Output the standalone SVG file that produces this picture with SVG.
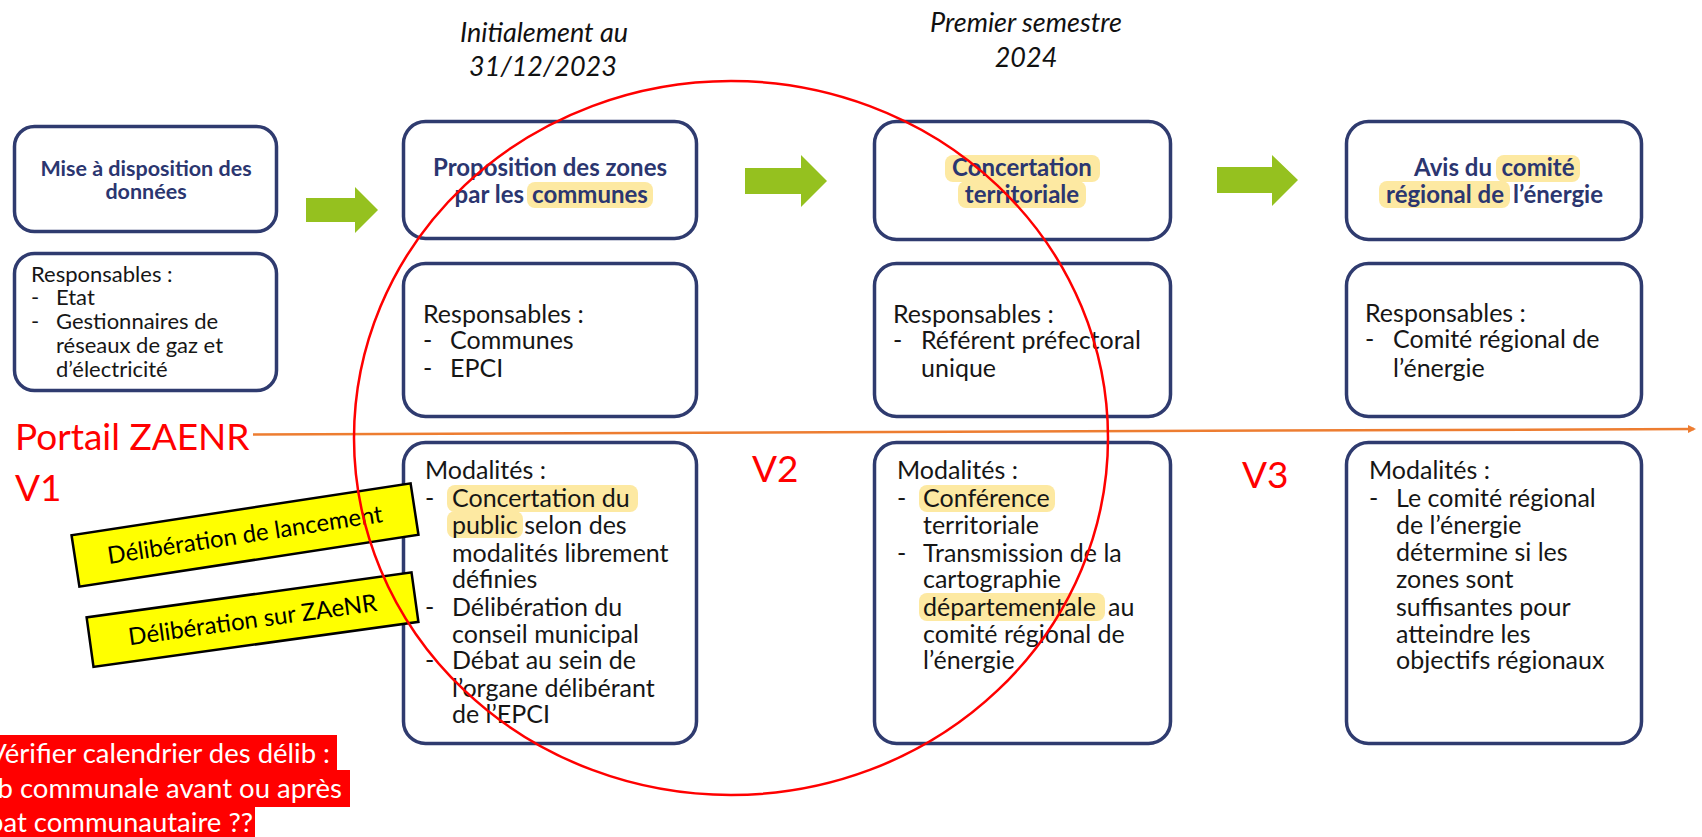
<svg xmlns="http://www.w3.org/2000/svg" width="1702" height="837" viewBox="0 0 1702 837">
<style>
.box{fill:#fff;stroke:#2f3b6f;stroke-width:3.5}
.ttl{font-family:Lato,"Open Sans",sans-serif;font-weight:bold;fill:#2b3670}
.body{font-family:Lato,"Open Sans",sans-serif;fill:#161616}
.hl{fill:#fde9a2}
.hdr{font-family:Lato,"Open Sans",sans-serif;font-style:italic;font-size:27px;fill:#111;text-anchor:middle}
.red{font-family:Lato,"Open Sans",sans-serif;fill:#ff0000;font-size:37px}
.green{fill:#95c11f}
.ybox{fill:#ffff00;stroke:#000;stroke-width:2.5}
.ytxt{font-family:Lato,"Open Sans",sans-serif;font-size:24px;fill:#000;text-anchor:middle}
.note{font-family:Lato,"Open Sans",sans-serif;font-size:27.5px;fill:#fff;text-anchor:end}
</style>
<defs>
<marker id="oarr" markerWidth="8" markerHeight="8" refX="6" refY="4" orient="auto" markerUnits="userSpaceOnUse">
<path d="M0,0 L8,4 L0,8 z" fill="#ed7d31"/>
</marker>
</defs>
<rect width="1702" height="837" fill="#fff"/>

<!-- headers -->
<g id="header-1">
<text class="hdr" x="544" y="42">Initialement au</text>
<text class="hdr" x="543" y="76">31/12/2023</text>
</g>
<g id="header-2">
<text class="hdr" x="1026" y="32">Premier semestre</text>
<text class="hdr" x="1026" y="67">2024</text>
</g>

<!-- column 1 -->
<g id="n1-title">
<rect class="box" x="14.5" y="126.5" width="262" height="105" rx="20"/>
<text class="ttl" font-size="21.5" text-anchor="middle" x="146" y="176">Mise à disposition des</text>
<text class="ttl" font-size="21.5" text-anchor="middle" x="146" y="199">données</text>
</g>
<g id="n1-resp">
<rect class="box" x="14.5" y="253.5" width="262" height="137" rx="20"/>
<text class="body" font-size="22" x="31" y="282">Responsables :</text>
<text class="body" font-size="22" x="31" y="305">-</text><text class="body" font-size="22" x="56" y="305">Etat</text>
<text class="body" font-size="22" x="31" y="329">-</text><text class="body" font-size="22" x="56" y="329">Gestionnaires de</text>
<text class="body" font-size="22" x="56" y="353">réseaux de gaz et</text>
<text class="body" font-size="22" x="56" y="377">d’électricité</text>
</g>

<!-- column 2 -->
<g id="n2-title">
<rect class="box" x="403.5" y="121.5" width="293" height="117" rx="22"/>
<rect class="hl" x="527" y="182" width="126" height="26" rx="8"/>
<text class="ttl" font-size="24" text-anchor="middle" x="550" y="176">Proposition des zones</text>
<text class="ttl" font-size="24" text-anchor="end" x="524" y="203">par les</text>
<text class="ttl" font-size="24" text-anchor="middle" x="590" y="203">communes</text>
</g>
<g id="n2-resp">
<rect class="box" x="403.5" y="263.5" width="293" height="153" rx="22"/>
<text class="body" font-size="25" x="423" y="323">Responsables :</text>
<text class="body" font-size="25" x="423" y="349">-</text><text class="body" font-size="25" x="450" y="349">Communes</text>
<text class="body" font-size="25" x="423" y="377">-</text><text class="body" font-size="25" x="450" y="377">EPCI</text>
</g>
<g id="n2-mod">
<rect class="box" x="403.5" y="442.5" width="293" height="301" rx="22"/>
<rect class="hl" x="447" y="485" width="191" height="27" rx="8"/>
<rect class="hl" x="447" y="511" width="76" height="27" rx="8"/>
<text class="body" font-size="25" x="425" y="479">Modalités :</text>
<text class="body" font-size="25" x="425" y="507">-</text><text class="body" font-size="25" x="452" y="507">Concertation du</text>
<text class="body" font-size="25" x="452" y="534">public selon des</text>
<text class="body" font-size="25" x="452" y="562">modalités librement</text>
<text class="body" font-size="25" x="452" y="588">définies</text>
<text class="body" font-size="25" x="425" y="616">-</text><text class="body" font-size="25" x="452" y="616">Délibération du</text>
<text class="body" font-size="25" x="452" y="643">conseil municipal</text>
<text class="body" font-size="25" x="425" y="669">-</text><text class="body" font-size="25" x="452" y="669">Débat au sein de</text>
<text class="body" font-size="25" x="452" y="697">l’organe délibérant</text>
<text class="body" font-size="25" x="452" y="723">de l’EPCI</text>
</g>

<!-- column 3 -->
<g id="n3-title">
<rect class="box" x="874.5" y="121.5" width="296" height="118" rx="22"/>
<rect class="hl" x="945" y="155" width="155" height="27" rx="8"/>
<rect class="hl" x="958" y="181" width="128" height="27" rx="8"/>
<text class="ttl" font-size="24" text-anchor="middle" x="1022" y="176">Concertation</text>
<text class="ttl" font-size="24" text-anchor="middle" x="1022" y="203">territoriale</text>
</g>
<g id="n3-resp">
<rect class="box" x="874.5" y="263.5" width="296" height="153" rx="22"/>
<text class="body" font-size="25" x="893" y="323">Responsables :</text>
<text class="body" font-size="25" x="893" y="349">-</text><text class="body" font-size="25" x="921" y="349">Référent préfectoral</text>
<text class="body" font-size="25" x="921" y="377">unique</text>
</g>
<g id="n3-mod">
<rect class="box" x="874.5" y="442.5" width="296" height="301" rx="22"/>
<rect class="hl" x="919" y="485" width="136" height="27" rx="8"/>
<rect class="hl" x="919" y="593" width="186" height="28" rx="8"/>
<text class="body" font-size="25" x="897" y="479">Modalités :</text>
<text class="body" font-size="25" x="897" y="507">-</text><text class="body" font-size="25" x="923" y="507">Conférence</text>
<text class="body" font-size="25" x="923" y="534">territoriale</text>
<text class="body" font-size="25" x="897" y="562">-</text><text class="body" font-size="25" x="923" y="562">Transmission de la</text>
<text class="body" font-size="25" x="923" y="588">cartographie</text>
<text class="body" font-size="25" x="923" y="616">départementale</text><text class="body" font-size="25" x="1108" y="616">au</text>
<text class="body" font-size="25" x="923" y="643">comité régional de</text>
<text class="body" font-size="25" x="923" y="669">l’énergie</text>
</g>

<!-- column 4 -->
<g id="n4-title">
<rect class="box" x="1346.5" y="121.5" width="295" height="118" rx="22"/>
<rect class="hl" x="1496" y="155" width="84" height="27" rx="8"/>
<rect class="hl" x="1379" y="181" width="131" height="27" rx="8"/>
<text class="ttl" font-size="24" text-anchor="end" x="1492" y="176">Avis du</text>
<text class="ttl" font-size="24" text-anchor="middle" x="1538" y="176">comité</text>
<text class="ttl" font-size="24" text-anchor="middle" x="1445" y="203">régional de</text>
<text class="ttl" font-size="24" x="1513" y="203">l’énergie</text>
</g>
<g id="n4-resp">
<rect class="box" x="1346.5" y="263.5" width="295" height="153" rx="22"/>
<text class="body" font-size="25" x="1365" y="322">Responsables :</text>
<text class="body" font-size="25" x="1365" y="348">-</text><text class="body" font-size="25" x="1393" y="348">Comité régional de</text>
<text class="body" font-size="25" x="1393" y="377">l’énergie</text>
</g>
<g id="n4-mod">
<rect class="box" x="1346.5" y="442.5" width="295" height="301" rx="22"/>
<text class="body" font-size="25" x="1369" y="479">Modalités :</text>
<text class="body" font-size="25" x="1369" y="507">-</text><text class="body" font-size="25" x="1396" y="507">Le comité régional</text>
<text class="body" font-size="25" x="1396" y="534">de l’énergie</text>
<text class="body" font-size="25" x="1396" y="561">détermine si les</text>
<text class="body" font-size="25" x="1396" y="588">zones sont</text>
<text class="body" font-size="25" x="1396" y="616">suffisantes pour</text>
<text class="body" font-size="25" x="1396" y="643">atteindre les</text>
<text class="body" font-size="25" x="1396" y="669">objectifs régionaux</text>
</g>

<!-- connectors -->
<g id="connectors">
<path class="green" d="M306,198 H355 V187 L378,210 L355,233 V222 H306 Z"/>
<path class="green" d="M745,168 H801 V155 L827,181 L801,207 V194 H745 Z"/>
<path class="green" d="M1217,167 H1272 V155 L1298,180 L1272,206 V193 H1217 Z"/>
<line x1="253" y1="434.5" x2="1694" y2="429" stroke="#ed7d31" stroke-width="2.5" marker-end="url(#oarr)"/>
</g>

<!-- red annotations -->
<g id="portail">
<text class="red" x="15" y="450">Portail ZAENR</text>
<text class="red" x="15" y="501">V1</text>
</g>
<g id="v2"><text class="red" x="752" y="482">V2</text></g>
<g id="v3"><text class="red" x="1242" y="488">V3</text></g>

<g id="delib-lancement" transform="rotate(-8.7 245 535)">
<rect class="ybox" x="73.5" y="509" width="343" height="52"/>
<text class="ytxt" x="245" y="543">Délibération de lancement</text>
</g>
<g id="delib-zaenr" transform="rotate(-7.9 252.5 619.6)">
<rect class="ybox" x="88.5" y="594.6" width="328" height="50"/>
<text class="ytxt" x="252.5" y="628">Délibération sur ZAeNR</text>
</g>

<g id="note">
<rect x="0" y="735" width="337" height="35" fill="#ff0000"/>
<rect x="0" y="770" width="350" height="37" fill="#ff0000"/>
<rect x="0" y="807" width="255" height="30" fill="#ff0000"/>
<text class="note" x="330" y="763">Vérifier calendrier des délib :</text>
<text class="note" x="342" y="798">délib communale avant ou après</text>
<text class="note" x="253" y="832">débat communautaire ??</text>
</g>

<g id="circle">
<ellipse cx="731" cy="438" rx="377" ry="357" fill="none" stroke="#ff0000" stroke-width="2.5"/>
</g>
</svg>
